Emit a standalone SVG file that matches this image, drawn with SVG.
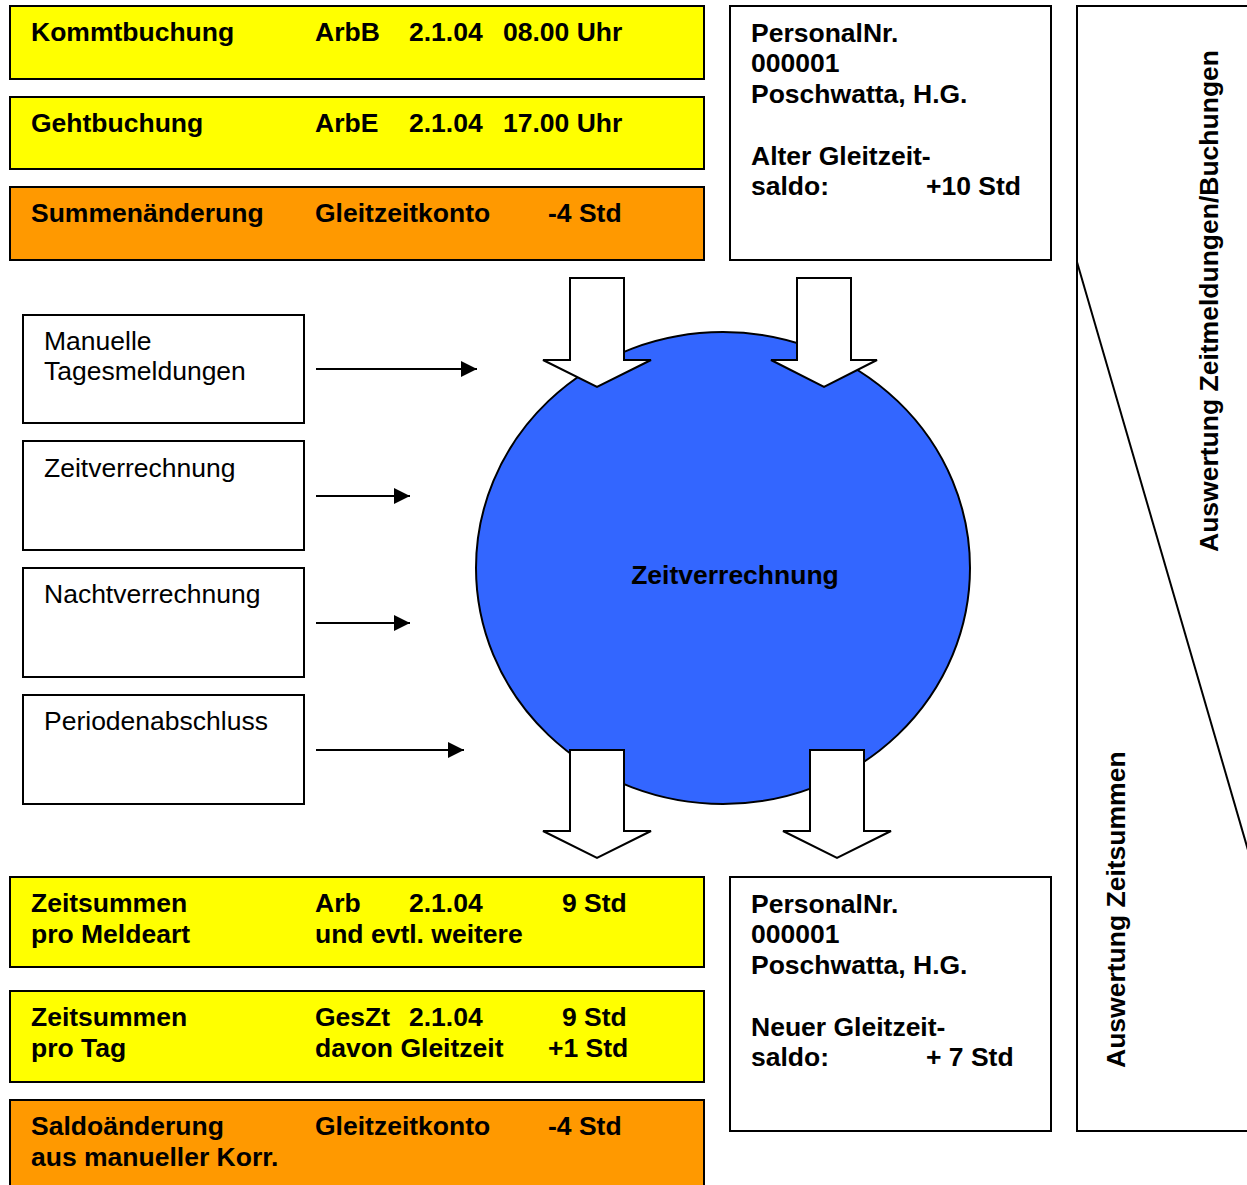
<svg xmlns="http://www.w3.org/2000/svg" width="1247" height="1185" viewBox="0 0 1247 1185">
<defs>
<style>
.t{font-family:"Liberation Sans",Arial,sans-serif;font-size:26.5px;fill:#000}
.b{font-weight:bold}
.box{stroke:#000;stroke-width:2;fill:#fff}
.yel{fill:#FFFF00;stroke:#000;stroke-width:2}
.org{fill:#FF9900;stroke:#000;stroke-width:2}
.blk{fill:#fff;stroke:#000;stroke-width:2;stroke-linejoin:miter}
.ln{stroke:#000;stroke-width:2;fill:none}
</style>
<marker id="ah" viewBox="0 0 16 16" refX="16" refY="8" markerWidth="16" markerHeight="16" markerUnits="userSpaceOnUse" orient="auto">
<path d="M0,0 L16,8 L0,16 Z" fill="#000"/>
</marker>
</defs>
<rect width="1247" height="1185" fill="#fff"/>

<g id="kommtbuchung">
<rect class="yel" x="10" y="6" width="694" height="73"/>
<text class="t b" x="31" y="41">Kommtbuchung</text>
<text class="t b" x="315" y="41">ArbB</text>
<text class="t b" x="409" y="41">2.1.04</text>
<text class="t b" x="503" y="41">08.00 Uhr</text>
</g>
<g id="gehtbuchung">
<rect class="yel" x="10" y="97" width="694" height="72"/>
<text class="t b" x="31" y="132">Gehtbuchung</text>
<text class="t b" x="315" y="132">ArbE</text>
<text class="t b" x="409" y="132">2.1.04</text>
<text class="t b" x="503" y="132">17.00 Uhr</text>
</g>
<g id="summenaenderung">
<rect class="org" x="10" y="187" width="694" height="73"/>
<text class="t b" x="31" y="222">Summenänderung</text>
<text class="t b" x="315" y="222">Gleitzeitkonto</text>
<text class="t b" x="548" y="222">-4 Std</text>
</g>
<g id="personal-alt">
<rect class="box" x="730" y="6" width="321" height="254"/>
<text class="t b" x="751" y="42">PersonalNr.</text>
<text class="t b" x="751" y="72">000001</text>
<text class="t b" x="751" y="103">Poschwatta, H.G.</text>
<text class="t b" x="751" y="165">Alter Gleitzeit-</text>
<text class="t b" x="751" y="195">saldo:</text>
<text class="t b" x="926" y="195">+10 Std</text>
</g>

<g id="auswertung">
<path class="ln" d="M1248,6 H1077 V1131 H1248"/>
<path class="ln" d="M1077,262 L1248,850"/>
<text class="t b" transform="translate(1218,552) rotate(-90)">Auswertung Zeitmeldungen/Buchungen</text>
<text class="t b" transform="translate(1125,1068) rotate(-90)">Auswertung Zeitsummen</text>
</g>

<g id="zeitverrechnung-kreis">
<ellipse cx="723" cy="568" rx="247" ry="236" fill="#3366FF" stroke="#000" stroke-width="2"/>
<text class="t b" x="735" y="584" text-anchor="middle">Zeitverrechnung</text>
</g>

<g id="manuelle">
<rect class="box" x="23" y="315" width="281" height="108"/>
<text class="t" x="44" y="350">Manuelle</text>
<text class="t" x="44" y="380">Tagesmeldungen</text>
</g>
<g id="zeitverrechnung">
<rect class="box" x="23" y="441" width="281" height="109"/>
<text class="t" x="44" y="477">Zeitverrechnung</text>
</g>
<g id="nachtverrechnung">
<rect class="box" x="23" y="568" width="281" height="109"/>
<text class="t" x="44" y="603">Nachtverrechnung</text>
</g>
<g id="periodenabschluss">
<rect class="box" x="23" y="695" width="281" height="109"/>
<text class="t" x="44" y="730">Periodenabschluss</text>
</g>

<g id="connectors">
<line class="ln" x1="316" y1="369" x2="477" y2="369" marker-end="url(#ah)"/>
<line class="ln" x1="316" y1="496" x2="410" y2="496" marker-end="url(#ah)"/>
<line class="ln" x1="316" y1="623" x2="410" y2="623" marker-end="url(#ah)"/>
<line class="ln" x1="316" y1="750" x2="464" y2="750" marker-end="url(#ah)"/>
<path class="blk" d="M570,278 H624 V360 H651 L597,387 L543,360 H570 Z"/>
<path class="blk" d="M797,278 H851 V360 H877 L824,387 L771,360 H797 Z"/>
<path class="blk" d="M570,750 H624 V831 H651 L597,858 L543,831 H570 Z"/>
<path class="blk" d="M810,750 H864 V831 H891 L837,858 L783,831 H810 Z"/>
</g>

<g id="zeitsummen-meldeart">
<rect class="yel" x="10" y="877" width="694" height="90"/>
<text class="t b" x="31" y="912">Zeitsummen</text>
<text class="t b" x="31" y="943">pro Meldeart</text>
<text class="t b" x="315" y="912">Arb</text>
<text class="t b" x="409" y="912">2.1.04</text>
<text class="t b" x="562" y="912">9 Std</text>
<text class="t b" x="315" y="943">und evtl. weitere</text>
</g>
<g id="zeitsummen-tag">
<rect class="yel" x="10" y="991" width="694" height="91"/>
<text class="t b" x="31" y="1026">Zeitsummen</text>
<text class="t b" x="31" y="1057">pro Tag</text>
<text class="t b" x="315" y="1026">GesZt</text>
<text class="t b" x="409" y="1026">2.1.04</text>
<text class="t b" x="562" y="1026">9 Std</text>
<text class="t b" x="315" y="1057">davon Gleitzeit</text>
<text class="t b" x="548" y="1057">+1 Std</text>
</g>
<g id="saldoaenderung">
<rect class="org" x="10" y="1100" width="694" height="95"/>
<text class="t b" x="31" y="1135">Saldoänderung</text>
<text class="t b" x="31" y="1166">aus manueller Korr.</text>
<text class="t b" x="315" y="1135">Gleitzeitkonto</text>
<text class="t b" x="548" y="1135">-4 Std</text>
</g>
<g id="personal-neu">
<rect class="box" x="730" y="877" width="321" height="254"/>
<text class="t b" x="751" y="913">PersonalNr.</text>
<text class="t b" x="751" y="943">000001</text>
<text class="t b" x="751" y="974">Poschwatta, H.G.</text>
<text class="t b" x="751" y="1036">Neuer Gleitzeit-</text>
<text class="t b" x="751" y="1066">saldo:</text>
<text class="t b" x="926" y="1066">+ 7 Std</text>
</g>
</svg>
